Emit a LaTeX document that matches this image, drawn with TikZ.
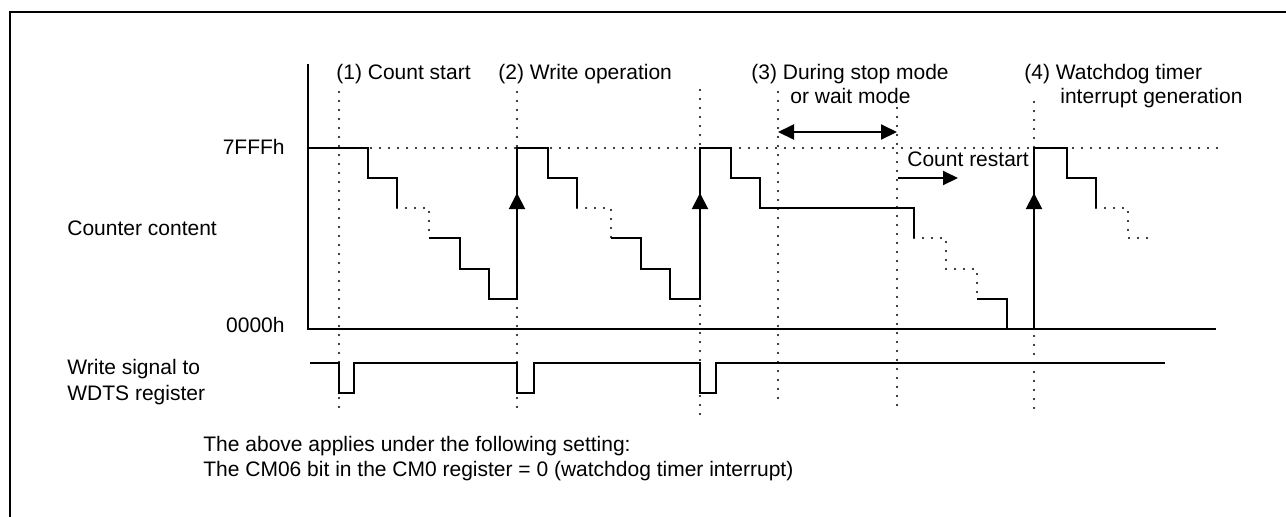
\documentclass[tikz,border=0pt]{standalone}
\usepackage{fontspec}
\setmainfont{Liberation Sans}
\usetikzlibrary{arrows.meta}

\begin{document}
\begin{tikzpicture}[x=0.5pt, y=-0.5pt, font=\fontsize{10.5pt}{12pt}\selectfont,
  lbl/.style={inner sep=0pt, anchor=base west},
  val/.style={inner sep=0pt, anchor=base east},
  sig/.style={line width=1pt},
  dots/.style={line width=1.15pt, line cap=round, dash pattern=on 0pt off 4.5pt},
  rise/.style={-{Triangle[length=8pt,width=8pt]}, line width=1pt},
  span/.style={{Triangle[length=8pt,width=7.5pt]}-{Triangle[length=8pt,width=7.5pt]}, line width=1pt},
  go/.style={-{Triangle[length=7.5pt,width=7pt]}, line width=1pt}]
  \useasboundingbox (0,0) rectangle (1286,516);
  \draw[line width=1.4pt] (10,530) -- (10,12) -- (1300,12);

  \node[lbl] (c1) at (336,79) {(1) Count start};
  \node[lbl] (c2) at (498,79) {(2) Write operation};
  \node[lbl] (c3) at (751,79) {(3) During stop mode};
  \node[lbl] (c3b) at (790,103) {or wait mode};
  \node[lbl] (c4) at (1024,79) {(4) Watchdog timer};
  \node[lbl] (c4b) at (1060,103) {interrupt generation};
  \node[lbl] (rst) at (907,166) {Count restart};
  \node[val] (top) at (285,154) {7FFFh};
  \node[val] (zero) at (285,332) {0000h};
  \node[lbl] (cnt) at (67,235) {Counter content};
  \node[lbl] (wr) at (67,374) {Write signal to};
  \node[lbl] (wdts) at (67,400) {WDTS register};
  \node[lbl] (n1) at (203,451) {The above applies under the following setting:};
  \node[lbl] (n2) at (203,476) {The CM06 bit in the CM0 register = 0 (watchdog timer interrupt)};

  \draw[sig] (308,64) -- (308,329) -- (1216,329);
  \draw[dots] (308,148) -- (1222,148);
  \foreach \x/\a/\b in {339/92/415, 517/92/415, 700/90/415, 778/92/406, 897/108/406, 1034/102/409}
    \draw[dots] (\x,\a) -- (\x,\b);

  \draw[sig] (308,148) -- (368,148) -- (368,178) -- (397,178) -- (397,208);
  \draw[dots] (397,208) -- (429,208) -- (429,238);
  \draw[sig] (429,238) -- (460,238) -- (460,269) -- (489,269) -- (489,299) -- (517,299)
    -- (517,148) -- (548,148) -- (548,178) -- (577,178) -- (577,208);
  \draw[dots] (577,208) -- (611,208) -- (611,238);
  \draw[sig] (611,238) -- (641,238) -- (641,269) -- (670,269) -- (670,299) -- (700,299)
    -- (700,148) -- (731,148) -- (731,178) -- (760,178) -- (760,208) -- (914,208) -- (914,238);
  \draw[dots] (914,238) -- (946,238) -- (946,269) -- (977,269) -- (977,299);
  \draw[sig] (977,299) -- (1007,299) -- (1007,329);
  \draw[sig] (1034,329) -- (1034,148) -- (1067,148) -- (1067,178) -- (1096,178) -- (1096,208);
  \draw[dots] (1096,208) -- (1128,208) -- (1128,238) -- (1150,238);

  \foreach \x in {517,700,1034}
    \draw[rise] (\x,240) -- (\x,193);
  \draw[span] (778,132) -- (897,132);
  \draw[go] (898,178) -- (958,178);

  \draw[sig] (310,363) -- (339,363) -- (339,393) -- (354,393) -- (354,363)
    -- (517,363) -- (517,393) -- (534,393) -- (534,363)
    -- (700,363) -- (700,393) -- (716,393) -- (716,363) -- (1165,363);
\end{tikzpicture}
\end{document}
